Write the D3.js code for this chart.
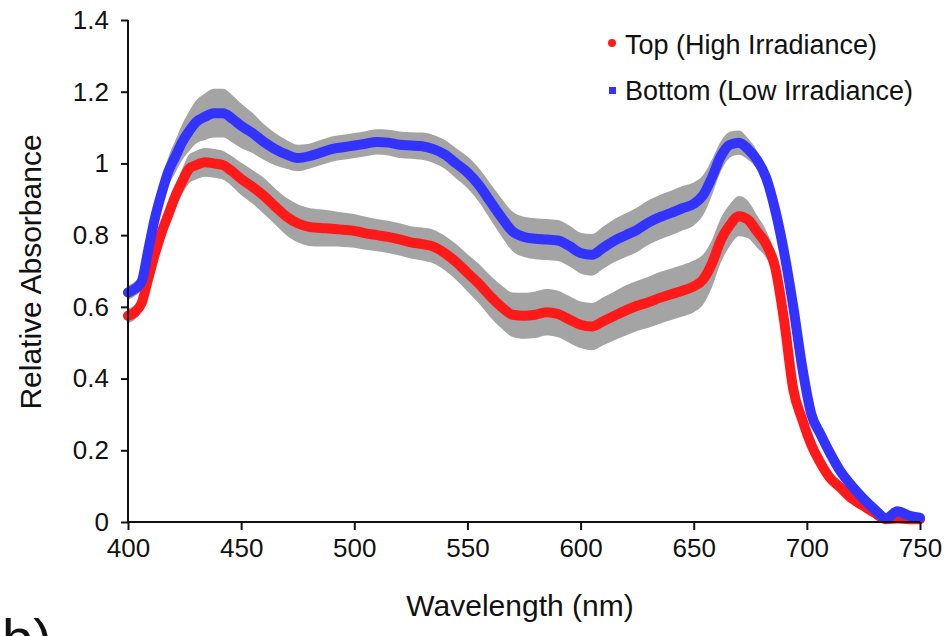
<!DOCTYPE html>
<head>
<meta charset="utf-8" />
<script src="https://d3js.org/d3.v7.min.js"></script>
<style>
  body { margin: 0; background: #fff; }
  text { font-family: "Liberation Sans", Arial, sans-serif; fill: #111; }
</style>
</head>
<body>
<div id="chart"></div>
<script>

// wavelength samples (nm)
var wavelength = [400, 403, 406, 409, 412, 415, 418, 421, 424, 427, 430, 434, 438, 442, 446, 450,
  455, 460, 465, 470, 475, 480, 485, 490, 495, 500, 505, 510, 515, 520, 525, 530, 535, 540, 545,
  550, 555, 560, 565, 570, 575, 580, 585, 590, 595, 600, 605, 610, 615, 620, 625, 630, 635, 640,
  645, 650, 654, 658, 662, 666, 670, 674, 678, 682, 686, 690, 694, 698, 702, 706, 710, 715, 720,
  725, 730, 735, 740, 745, 750]

// Top (High Irradiance) mean and sd
var topMean = [0.575, 0.585, 0.61, 0.68, 0.75, 0.81, 0.86, 0.91, 0.95, 0.985, 0.995, 1.003, 1.0, 0.995, 0.978, 0.957,
  0.935, 0.91, 0.88, 0.852, 0.833, 0.823, 0.82, 0.818, 0.815, 0.812, 0.805, 0.8, 0.795, 0.788, 0.78, 0.775, 0.768, 0.75, 0.725,
  0.695, 0.665, 0.63, 0.6, 0.578, 0.575, 0.578, 0.585, 0.58, 0.565, 0.55, 0.545, 0.56, 0.575, 0.59, 0.603, 0.613, 0.625, 0.635,
  0.645, 0.657, 0.675, 0.72, 0.786, 0.828, 0.853, 0.843, 0.81, 0.775, 0.71, 0.56, 0.37, 0.285, 0.215, 0.165, 0.125, 0.095, 0.065,
  0.045, 0.025, 0.008, 0.01, 0.008, 0.008]
var topSd = [0.02, 0.02, 0.02, 0.02, 0.025, 0.025, 0.03, 0.03, 0.035, 0.04, 0.04, 0.04, 0.04, 0.04, 0.042, 0.045,
  0.047, 0.05, 0.05, 0.052, 0.053, 0.053, 0.052, 0.05, 0.048, 0.047, 0.046, 0.045, 0.045, 0.045, 0.045, 0.046, 0.047, 0.048, 0.05,
  0.052, 0.055, 0.058, 0.06, 0.062, 0.064, 0.065, 0.065, 0.065, 0.065, 0.065, 0.066, 0.067, 0.068, 0.07, 0.07, 0.071, 0.072, 0.072,
  0.072, 0.072, 0.07, 0.066, 0.062, 0.058, 0.056, 0.052, 0.045, 0.038, 0.03, 0.02, 0.014, 0.01, 0.008, 0.008, 0.007, 0.006, 0.006,
  0.005, 0.005, 0.005, 0.005, 0.005, 0.005]

// Bottom (Low Irradiance) mean and sd
var bottomMean = [0.64, 0.65, 0.67, 0.76, 0.85, 0.92, 0.98, 1.02, 1.06, 1.09, 1.115, 1.13, 1.14, 1.14, 1.125, 1.105,
  1.085, 1.06, 1.04, 1.025, 1.015, 1.02, 1.03, 1.04, 1.045, 1.05, 1.055, 1.06, 1.058, 1.052, 1.05, 1.048, 1.04, 1.025, 1.0,
  0.975, 0.94, 0.895, 0.85, 0.81, 0.795, 0.79, 0.788, 0.785, 0.77, 0.75, 0.745, 0.765, 0.785, 0.8, 0.815, 0.835, 0.85, 0.862,
  0.875, 0.887, 0.91, 0.96, 1.02, 1.052, 1.058, 1.04, 1.01, 0.96, 0.87, 0.75, 0.6, 0.43, 0.3, 0.245, 0.195, 0.14, 0.1,
  0.065, 0.035, 0.01, 0.03, 0.018, 0.012]
var bottomSd = [0.02, 0.02, 0.02, 0.025, 0.03, 0.035, 0.04, 0.045, 0.05, 0.055, 0.06, 0.065, 0.068, 0.068, 0.066, 0.062,
  0.056, 0.05, 0.045, 0.04, 0.037, 0.035, 0.035, 0.035, 0.035, 0.035, 0.035, 0.035, 0.036, 0.037, 0.037, 0.038, 0.039, 0.04, 0.042,
  0.044, 0.047, 0.05, 0.053, 0.055, 0.056, 0.057, 0.057, 0.057, 0.057, 0.057, 0.058, 0.059, 0.06, 0.061, 0.062, 0.062, 0.062, 0.062,
  0.062, 0.06, 0.056, 0.05, 0.042, 0.036, 0.034, 0.03, 0.025, 0.02, 0.015, 0.012, 0.01, 0.008, 0.007, 0.006, 0.006, 0.005, 0.005,
  0.005, 0.005, 0.005, 0.005, 0.005, 0.005]

var xTicks = [400, 450, 500, 550, 600, 650, 700, 750]
var yTicks = [0, 0.2, 0.4, 0.6, 0.8, 1, 1.2, 1.4]
var seriesNames = ["Top (High Irradiance)", "Bottom (Low Irradiance)"]

var W = 949, H = 636
var margin = {top: 20, right: 29, bottom: 114, left: 128},
    width = W - margin.left - margin.right,
    height = H - margin.top - margin.bottom

var svg = d3.select("#chart").append("svg")
  .attr("width", W).attr("height", H)

var g = svg.append("g")
  .attr("transform", "translate(" + margin.left + "," + margin.top + ")")

var x = d3.scaleLinear().domain([400, 750]).range([0, width])
var y = d3.scaleLinear().domain([0, 1.4]).range([height, 0])

var topData = wavelength.map(function(w, i){ return {w: w, m: topMean[i], s: topSd[i]} })
var bottomData = wavelength.map(function(w, i){ return {w: w, m: bottomMean[i], s: bottomSd[i]} })

var band = d3.area()
  .x(function(d){ return x(d.w) })
  .y0(function(d){ return y(d.m - d.s) })
  .y1(function(d){ return y(d.m + d.s) })
  .curve(d3.curveMonotoneX)

var line = d3.line()
  .x(function(d){ return x(d.w) })
  .y(function(d){ return y(Math.max(d.m, 0)) })
  .curve(d3.curveMonotoneX)

// grey sd bands
g.append("path").datum(topData).attr("d", band).attr("fill", "#a4a4a4")
g.append("path").datum(bottomData).attr("d", band).attr("fill", "#a4a4a4")

// mean lines
g.append("path").datum(topData).attr("d", line)
  .attr("fill", "none").attr("stroke", "#ff1a1a").attr("stroke-width", 10)
  .attr("stroke-linejoin", "round").attr("stroke-linecap", "round")
g.append("path").datum(bottomData).attr("d", line)
  .attr("fill", "none").attr("stroke", "#3333ff").attr("stroke-width", 10)
  .attr("stroke-linejoin", "round").attr("stroke-linecap", "round")

// axes
var xAxis = g.append("g")
  .attr("transform", "translate(0," + height + ")")
  .call(d3.axisBottom(x).tickValues(xTicks).tickSize(8).tickPadding(9).tickFormat(d3.format("d")))
var yAxis = g.append("g")
  .call(d3.axisLeft(y).tickValues(yTicks).tickSize(7).tickPadding(12).tickFormat(function(d){ return d3.format("")(+d.toFixed(1)) }))

g.selectAll(".domain").attr("stroke", "#111").attr("stroke-width", 2)
g.selectAll(".tick line").attr("stroke", "#111").attr("stroke-width", 2)
g.selectAll(".tick text").style("font-size", "26px").style("fill", "#111")
  .style("font-family", "'Liberation Sans', Arial, sans-serif")
xAxis.selectAll(".domain").attr("d", "M0,0H" + width)
yAxis.selectAll(".domain").attr("d", "M0,0V" + height)

// axis titles
svg.append("text")
  .attr("x", 520).attr("y", 616)
  .attr("text-anchor", "middle").style("font-size", "30px")
  .text("Wavelength (nm)")
svg.append("text")
  .attr("transform", "translate(41,272) rotate(-90)")
  .attr("text-anchor", "middle").style("font-size", "30px")
  .text("Relative Absorbance")

// legend
var legend = svg.append("g")
legend.append("circle").attr("cx", 612).attr("cy", 43).attr("r", 4).attr("fill", "#ff1a1a")
legend.append("rect").attr("x", 609).attr("y", 87).attr("width", 7).attr("height", 7).attr("fill", "#3333ff")
legend.selectAll("text.lg").data(seriesNames).enter().append("text")
  .attr("class", "lg")
  .attr("x", 625).attr("y", function(d, i){ return 54 + i * 46 })
  .style("font-size", "27px")
  .text(function(d){ return d })

// panel letter, cut by the bottom edge as in the figure
svg.append("text")
  .attr("x", 2).attr("y", 658)
  .style("font-size", "56px")
  .text("b)")

</script>
</body>
</html>
